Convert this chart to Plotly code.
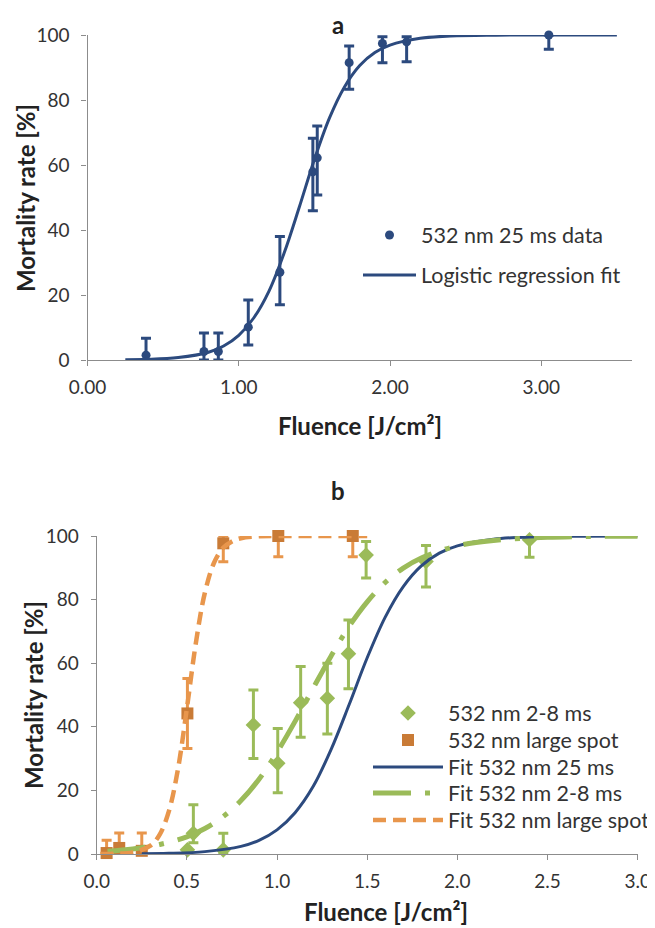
import plotly.graph_objects as go

# The page body has an 8px margin, so the figure is sized and positioned to compensate.
OFF = 8
W, H = 655 - OFF, 928 - OFF
FONT = "Lato"

# ---------------- Panel a data ----------------
a_x = [0.387, 0.77, 0.865, 1.063, 1.272, 1.49, 1.519, 1.73, 1.95, 2.11, 3.05]
a_y = [1.5, 2.6, 2.6, 10.1, 27.0, 57.9, 62.2, 91.5, 97.4, 97.9, 100.0]
a_err_plus = [5.2, 5.7, 5.7, 8.4, 11.0, 10.3, 9.8, 5.1, 2.1, 1.6, 0.0]
a_err_minus = [1.5, 2.6, 2.6, 5.5, 10.0, 12.0, 11.4, 8.2, 5.9, 6.1, 4.4]

fit25_x = [0.25, 0.4, 0.6, 0.8, 0.9, 1.0, 1.1, 1.2, 1.3, 1.4, 1.5, 1.6, 1.7,
           1.8, 1.9, 2.0, 2.2, 2.4, 2.7, 3.0, 3.5]
fit25_y = [0.1, 0.2, 0.75, 2.4, 4.3, 7.6, 13.0, 21.2, 32.9, 47.0, 61.7, 74.5,
           84.1, 90.6, 94.6, 96.9, 99.0, 99.7, 99.95, 100.0, 100.0]

# ---------------- Panel b data ----------------
g_x = [0.503, 0.536, 0.702, 0.869, 1.004, 1.131, 1.279, 1.396, 1.494, 1.826, 2.40]
g_y = [1.3, 6.5, 1.3, 40.6, 28.5, 47.6, 49.0, 63.0, 94.0, 92.0, 98.8]
g_err_plus = [0.0, 9.0, 5.2, 11.0, 11.0, 11.4, 11.0, 10.6, 4.3, 5.0, 1.2]
g_err_minus = [0.0, 3.0, 1.3, 10.6, 9.2, 10.9, 11.3, 11.0, 7.2, 8.0, 5.5]

o_x = [0.055, 0.125, 0.25, 0.503, 0.702, 1.007, 1.42]
o_y = [0.3, 1.9, 1.0, 44.2, 97.7, 100.0, 100.0]
o_err_plus = [4.0, 4.7, 5.6, 11.0, 2.3, 0.0, 0.0]
o_err_minus = [0.3, 1.9, 1.0, 11.0, 5.8, 6.5, 6.5]

fit25b_x = [0.25, 0.4, 0.6, 0.8, 0.9, 1.0, 1.1, 1.2, 1.3, 1.4, 1.5, 1.6, 1.7,
            1.8, 1.9, 2.0, 2.2, 2.4, 2.7, 3.0]
fit25b_y = [0.1, 0.2, 0.75, 2.4, 4.3, 7.6, 13.0, 21.2, 32.9, 47.0, 61.7, 74.5,
            84.1, 90.6, 94.6, 96.9, 99.0, 99.7, 99.95, 100.0]

fitg_x = [0.06, 0.2, 0.35, 0.5, 0.6, 0.7, 0.8, 0.9, 1.0, 1.1, 1.2, 1.3, 1.4,
          1.5, 1.6, 1.7, 1.8, 2.0, 2.2, 2.5, 3.0]
fitg_y = [0.9, 1.6, 3.0, 5.4, 8.0, 11.7, 16.8, 23.5, 32.0, 41.7, 52.1, 62.3,
          71.6, 79.3, 85.4, 89.9, 93.1, 96.9, 98.6, 99.6, 99.95]

fito_x = [0.02, 0.1, 0.2, 0.3, 0.35, 0.4, 0.45, 0.5, 0.55, 0.6, 0.65, 0.7,
          0.75, 0.8, 0.9, 1.0, 1.2, 1.5]
fito_y = [0.02, 0.09, 0.5, 2.7, 6.2, 13.4, 26.5, 45.8, 66.4, 82.2, 91.5, 96.2,
          98.3, 99.3, 99.9, 100.0, 100.0, 100.0]

NAVY = "#2C4A7E"
GREEN = "#9BBB59"
ORANGE_LINE = "#E8964C"
ORANGE_MK = "#C97B36"
AXIS = "#8C8C8C"
TXT = "#333333"


def px_x(p):
    return (p - OFF) / W


def px_y(p):
    return 1 - (p - OFF) / H


fig = go.Figure()

# Panel a
fig.add_trace(go.Scatter(
    x=a_x, y=a_y, mode="markers", name="532 nm 25 ms data",
    marker=dict(color=NAVY, size=9, symbol="circle"),
    error_y=dict(type="data", array=a_err_plus, arrayminus=a_err_minus,
                 color=NAVY, thickness=3, width=5),
    xaxis="x", yaxis="y", legend="legend", cliponaxis=False))
fig.add_trace(go.Scatter(
    x=fit25_x, y=fit25_y, mode="lines", name="Logistic regression fit",
    line=dict(color=NAVY, width=3, shape="spline"),
    xaxis="x", yaxis="y", legend="legend2", cliponaxis=False))

# Panel b
fig.add_trace(go.Scatter(
    x=g_x, y=g_y, mode="markers", name="532 nm 2-8 ms",
    marker=dict(color=GREEN, size=12, symbol="diamond"),
    error_y=dict(type="data", array=g_err_plus, arrayminus=g_err_minus,
                 color=GREEN, thickness=3, width=5),
    xaxis="x2", yaxis="y2", legend="legend3", cliponaxis=False))
fig.add_trace(go.Scatter(
    x=o_x, y=o_y, mode="markers", name="532 nm large spot",
    marker=dict(color=ORANGE_MK, size=12, symbol="square"),
    error_y=dict(type="data", array=o_err_plus, arrayminus=o_err_minus,
                 color=ORANGE_LINE, thickness=3, width=5),
    xaxis="x2", yaxis="y2", legend="legend4", cliponaxis=False))
fig.add_trace(go.Scatter(
    x=fit25b_x, y=fit25b_y, mode="lines", name="Fit 532 nm 25 ms",
    line=dict(color=NAVY, width=3, shape="spline"),
    xaxis="x2", yaxis="y2", legend="legend5", cliponaxis=False))
fig.add_trace(go.Scatter(
    x=fitg_x, y=fitg_y, mode="lines", name="Fit 532 nm 2-8 ms",
    line=dict(color=GREEN, width=5, shape="spline", dash="38px,14px,5px,14px"),
    xaxis="x2", yaxis="y2", legend="legend6", cliponaxis=False))
fig.add_trace(go.Scatter(
    x=fito_x, y=fito_y, mode="lines", name="Fit 532 nm large spot",
    line=dict(color=ORANGE_LINE, width=4.5, shape="spline", dash="13px,7px"),
    xaxis="x2", yaxis="y2", legend="legend7", cliponaxis=False))

axis_common = dict(showline=True, linecolor=AXIS, linewidth=1.3, ticks="outside",
                   ticklen=5, tickcolor=AXIS, tickwidth=1.3, showgrid=False,
                   zeroline=False, automargin=False,
                   tickfont=dict(family=FONT, size=19, color=TXT))


def leg(xp, yp, iw):
    return dict(x=px_x(xp), y=px_y(yp), xanchor="left", yanchor="middle",
                bgcolor="rgba(0,0,0,0)", font=dict(family=FONT, size=21.5, color=TXT),
                itemwidth=iw)


fig.update_layout(
    width=W, height=H, margin=dict(l=0, r=0, t=0, b=0, autoexpand=False),
    paper_bgcolor="white", plot_bgcolor="white",
    font=dict(family=FONT, color=TXT),
    xaxis=dict(domain=[px_x(87.5), px_x(632)], range=[0, 3.6], dtick=1,
               tickformat=".2f", anchor="y", ticklabelstandoff=5, **axis_common),
    yaxis=dict(domain=[px_y(360), px_y(35)], range=[0, 100], dtick=20,
               anchor="x", ticklabelstandoff=8, **axis_common),
    xaxis2=dict(domain=[px_x(96.7), px_x(637.7)], range=[0, 3.0], dtick=0.5,
                tickformat=".1f", anchor="y2", ticklabelstandoff=5, **axis_common),
    yaxis2=dict(domain=[px_y(854), px_y(536)], range=[0, 100], dtick=20,
                anchor="x2", ticklabelstandoff=8, **axis_common),
    legend=leg(358, 235, 53),
    legend2=leg(358, 275, 53),
    legend3=leg(368, 713, 70),
    legend4=leg(368, 740, 70),
    legend5=leg(368, 767, 70),
    legend6=leg(368, 793, 70),
    legend7=leg(368, 820, 70),
    showlegend=True,
)

ann_font = dict(family=FONT, size=24, color="#222222")
annotations = [
    dict(text="<b>a</b>", x=px_x(338), y=px_y(9), yanchor="top"),
    dict(text="<b>b</b>", x=px_x(338), y=px_y(490), yanchor="middle"),
    dict(text="<b>Fluence [J/cm²]</b>", x=px_x(360), y=px_y(425), yanchor="middle"),
    dict(text="<b>Fluence [J/cm²]</b>", x=px_x(386), y=px_y(927), yanchor="bottom"),
    dict(text="<b>Mortality rate [%]</b>", x=px_x(25), y=px_y(198), textangle=-90,
         yanchor="middle"),
    dict(text="<b>Mortality rate [%]</b>", x=px_x(33), y=px_y(695), textangle=-90,
         yanchor="middle"),
]
for a in annotations:
    a.update(xref="paper", yref="paper", showarrow=False, xanchor="center",
             font=ann_font, borderpad=0)
fig.update_layout(annotations=annotations)

fig.write_html("out.html")
